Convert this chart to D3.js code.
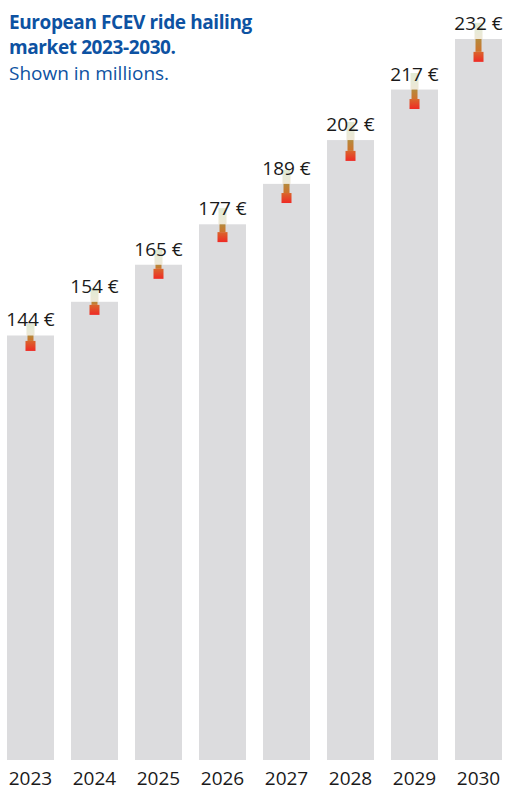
<!DOCTYPE html>
<html>
<head>
<meta charset="utf-8">
<script src="https://cdn.jsdelivr.net/npm/d3@7"></script>
<style>
  html, body { margin: 0; padding: 0; background: #ffffff; }
  svg { display: block; }
</style>
</head>
<body>
<svg id="chart" width="506" height="791"></svg>
<script>
// ---- data ----
const years = ["2023", "2024", "2025", "2026", "2027", "2028", "2029", "2030"];
const values = [144, 154, 165, 177, 189, 202, 217, 232];
const valueLabels = ["144 €", "154 €", "165 €", "177 €", "189 €", "202 €", "217 €", "232 €"];
// decorative marker: top of the stem and centre of the square (same units as values)
const stemHigh = [147.4, 158.1, 169.4, 181.8, 193.1, 207.4, 221.9, 236.8];
const stemLow = [140.9, 151.6, 162.3, 173.2, 184.8, 197.3, 212.7, 226.7];
const titleLines = ["European FCEV ride hailing", "market 2023-2030."];
const subtitle = "Shown in millions.";

const svg = d3.select("#chart");
const font = "'Open Sans', 'Noto Sans', sans-serif";
const blue = "#0d52a2";

const x = d3.scaleBand().domain(years).range([7, 502]).paddingInner(0.266).paddingOuter(0);
const y = d3.scaleLinear().domain([18, 232]).range([760, 39]);

const defs = svg.append("defs");
const gPale = defs.append("linearGradient").attr("id", "pale").attr("x1", 0).attr("y1", 0).attr("x2", 0).attr("y2", 1);
gPale.append("stop").attr("offset", "0%").attr("stop-color", "#e0e9d3");
gPale.append("stop").attr("offset", "45%").attr("stop-color", "#e6ead6");
gPale.append("stop").attr("offset", "100%").attr("stop-color", "#efe7d6");
const gStem = defs.append("linearGradient").attr("id", "stem").attr("x1", 0).attr("y1", 0).attr("x2", 0).attr("y2", 1);
gStem.append("stop").attr("offset", "0%").attr("stop-color", "#b48a3c");
gStem.append("stop").attr("offset", "100%").attr("stop-color", "#d0722c");
const gSq = defs.append("linearGradient").attr("id", "sq").attr("x1", 0).attr("y1", 0).attr("x2", 0).attr("y2", 1);
gSq.append("stop").attr("offset", "0%").attr("stop-color", "#d9662c");
gSq.append("stop").attr("offset", "100%").attr("stop-color", "#ef2a25");

const data = years.map((yr, i) => ({ yr, v: values[i], label: valueLabels[i], hi: stemHigh[i], lo: stemLow[i] }));

// bars
svg.append("g").selectAll("rect").data(data).join("rect")
  .attr("x", d => x(d.yr))
  .attr("y", d => y(d.v))
  .attr("width", x.bandwidth())
  .attr("height", d => y.range()[0] - y(d.v))
  .attr("fill", "#dcdcde");

// markers
const sq = 10;
const m = svg.append("g").selectAll("g").data(data).join("g")
  .attr("transform", d => `translate(${x(d.yr) + x.bandwidth() / 2},0)`);
m.append("rect") // pale part above the bar
  .attr("x", -4).attr("width", 8)
  .attr("y", d => y(d.hi))
  .attr("height", d => Math.max(0, y(d.v) - y(d.hi)))
  .attr("fill", "url(#pale)");
m.append("rect") // orange stem inside the bar
  .attr("x", -3).attr("width", 6)
  .attr("y", d => y(d.v))
  .attr("height", d => Math.max(0, (y(d.lo) - sq / 2) - y(d.v)))
  .attr("fill", "url(#stem)");
m.append("rect") // red square
  .attr("x", -sq / 2).attr("width", sq)
  .attr("y", d => y(d.lo) - sq / 2)
  .attr("height", sq)
  .attr("fill", "url(#sq)");

// value labels
svg.append("g").selectAll("text").data(data).join("text")
  .attr("x", d => x(d.yr) + x.bandwidth() / 2)
  .attr("y", d => y(d.v) - 9)
  .attr("text-anchor", "middle")
  .attr("font-family", font)
  .attr("font-size", 19)
  .attr("fill", "#1a1a1a")
  .text(d => d.label);

// x axis labels
const xAxis = d3.axisBottom(x).tickSize(0).tickPadding(0);
const ax = svg.append("g").attr("transform", "translate(0,771)").call(xAxis);
ax.select(".domain").remove();
ax.selectAll("text")
  .attr("font-family", font)
  .attr("font-size", 19)
  .attr("fill", "#1a1a1a")
  .attr("dy", "0.71em");

// title
svg.append("g").selectAll("text").data(titleLines).join("text")
  .attr("x", 9)
  .attr("y", (d, i) => 29 + i * 25)
  .attr("font-family", font)
  .attr("font-weight", 700)
  .attr("font-size", 19)
  .attr("letter-spacing", -0.4)
  .attr("fill", blue)
  .text(d => d);
svg.append("text")
  .attr("x", 9).attr("y", 80)
  .attr("font-family", font)
  .attr("font-size", 19)
  .attr("fill", blue)
  .text(subtitle);
</script>
</body>
</html>
